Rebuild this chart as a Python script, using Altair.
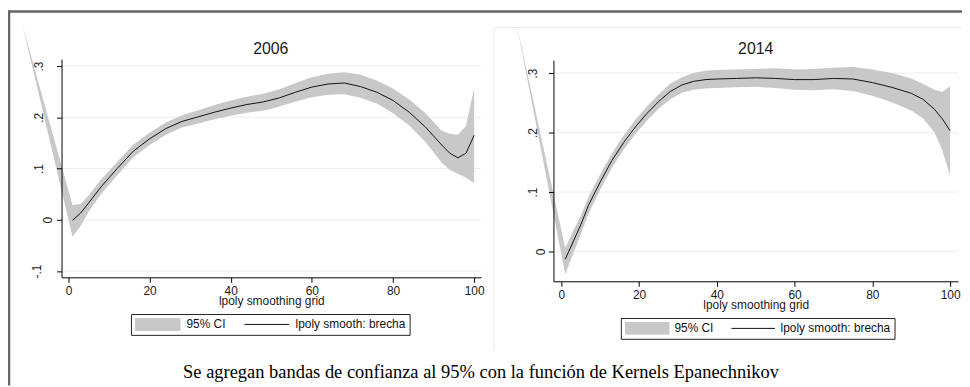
import altair as alt
import pandas as pd

# ---------------- data ----------------
years = ["2006", "2014"]
x_ticks = [0, 20, 40, 60, 80, 100]
y_ticks_2006 = [-0.1, 0, 0.1, 0.2, 0.3]
y_ticks_2014 = [0, 0.1, 0.2, 0.3]
legend_labels = ["95% CI", "lpoly smooth: brecha"]
x_title = "lpoly smoothing grid"
caption = "Se agregan bandas de confianza al 95% con la función de Kernels Epanechnikov"

grid_2006 = [1, 3, 5, 8, 12, 16, 20, 24, 28, 32, 36, 40, 44, 48, 52, 56, 60, 64, 68, 72,
             76, 80, 84, 88, 92, 94, 96, 98, 100]
fit_2006 = [-0.001, 0.013, 0.033, 0.064, 0.100, 0.134, 0.158, 0.178, 0.192, 0.201, 0.210,
            0.218, 0.225, 0.230, 0.238, 0.249, 0.259, 0.265, 0.267, 0.260, 0.249, 0.233,
            0.210, 0.181, 0.146, 0.130, 0.121, 0.130, 0.165]
lo_2006 = [-0.033, -0.012, 0.016, 0.050, 0.087, 0.122, 0.146, 0.166, 0.180, 0.188, 0.196,
           0.203, 0.209, 0.213, 0.221, 0.231, 0.239, 0.244, 0.245, 0.238, 0.227, 0.208,
           0.184, 0.152, 0.112, 0.097, 0.090, 0.082, 0.072]
hi_2006 = [0.029, 0.031, 0.048, 0.078, 0.113, 0.147, 0.170, 0.190, 0.204, 0.214, 0.224,
           0.233, 0.240, 0.246, 0.255, 0.267, 0.278, 0.285, 0.288, 0.283, 0.272, 0.256,
           0.235, 0.208, 0.174, 0.168, 0.166, 0.183, 0.257]

grid_2014 = [1, 3, 5, 7, 10, 13, 16, 19, 22, 25, 28, 31, 34, 37, 40, 45, 50, 55, 60, 65,
             70, 75, 80, 85, 90, 93, 96, 98, 100]
fit_2014 = [-0.013, 0.016, 0.045, 0.078, 0.117, 0.153, 0.183, 0.209, 0.232, 0.252, 0.269,
            0.280, 0.286, 0.289, 0.290, 0.291, 0.292, 0.291, 0.289, 0.289, 0.291, 0.290,
            0.284, 0.276, 0.266, 0.256, 0.239, 0.223, 0.203]
lo_2014 = [-0.038, -0.004, 0.029, 0.064, 0.104, 0.141, 0.171, 0.197, 0.220, 0.240, 0.256,
           0.267, 0.272, 0.274, 0.275, 0.276, 0.277, 0.275, 0.272, 0.271, 0.273, 0.270,
           0.262, 0.251, 0.237, 0.224, 0.200, 0.170, 0.128]
hi_2014 = [0.006, 0.034, 0.060, 0.092, 0.130, 0.165, 0.195, 0.221, 0.244, 0.264, 0.282,
           0.293, 0.300, 0.304, 0.305, 0.306, 0.307, 0.308, 0.306, 0.307, 0.309, 0.310,
           0.306, 0.300, 0.291, 0.282, 0.272, 0.268, 0.278]

# stray band vertex drawn outside the plot region in the original
stray_x = [-11.4, -11.5]
stray_y = [0.382, 0.382]

# ---------------- style ----------------
FONT = "Liberation Sans"
BAND = "#c8c8ca"
LINE = "#111111"
W, H = 962, 379

Y_LABEL_EXPR = ("datum.value == 0 ? '0' : (datum.value < 0 ? '-' : '') + "
                "replace(format(abs(datum.value), '.1f'), '0.', '.')")
COND = "datum.value == '95% CI'"


def make_panel(year, xs, fit, lo, hi, sx, sy, yticks, xdom, xrng, ydom, yrng,
               xoff, yoff, pads, title_xy, leg):
    band_df = pd.DataFrame({"x": [sx] + xs, "lo": [sy] + lo, "hi": [sy] + hi,
                            "s": legend_labels[0]})
    line_df = pd.DataFrame({"x": xs, "fit": fit, "s": legend_labels[1]})
    grid_df = pd.DataFrame({"v": yticks})
    title_df = pd.DataFrame({"year": [year]})

    xsc = alt.Scale(domain=xdom, range=xrng, nice=False, zero=False)
    ysc = alt.Scale(domain=ydom, range=yrng, nice=False, zero=False)

    xax = alt.Axis(values=x_ticks, orient="bottom", offset=xoff, title=x_title,
                   format="d", grid=False, tickSize=5, tickColor="#000",
                   domainColor="#000", labelPadding=12.5, labelBaseline="alphabetic",
                   labelFont=FONT, labelFontSize=12, labelColor="#1a1a1a",
                   labelFlush=False, labelOverlap=False,
                   titleFont=FONT, titleFontSize=12, titleFontWeight="normal",
                   titleColor="#1a1a1a", titleY=27, titleBaseline="alphabetic",
                   zindex=1)
    yax = alt.Axis(values=yticks, orient="left", offset=yoff, title=None,
                   grid=False, tickSize=5, tickColor="#000", domainColor="#000",
                   labelAngle=270, labelAlign="center", labelBaseline="middle",
                   labelPadding={"condition": [
                       {"test": "datum.value == 0", "value": pads[1]},
                       {"test": "datum.value < 0", "value": pads[2]}],
                       "value": pads[0]},
                   labelExpr=Y_LABEL_EXPR, labelFont=FONT, labelFontSize=12,
                   labelColor="#1a1a1a", labelFlush=False, labelOverlap=False,
                   zindex=1)

    legend = alt.Legend(
        title=None, orient="none", legendX=leg["x"], legendY=leg["y"],
        direction="horizontal", columns=2, padding=4, strokeColor="#222",
        fillColor="white", symbolSize=leg["size"], clipHeight=13,
        labelFont=FONT, labelFontSize=leg["font"], labelColor="#111",
        labelOffset=leg["off"], columnPadding=leg["colpad"], labelLimit=300,
        symbolType=alt.expr(f"{COND} ? 'M-1,-0.27H1V0.27H-1Z' : 'M-1,0H1'"),
        symbolFillColor=alt.expr(f"{COND} ? '{BAND}' : 'transparent'"),
        symbolStrokeColor=alt.expr(f"{COND} ? '{BAND}' : '{LINE}'"),
        symbolStrokeWidth=1, symbolOpacity=1,
    )
    col = alt.Color("s:N", scale=alt.Scale(domain=legend_labels, range=[BAND, LINE]),
                    legend=legend)

    grid = alt.Chart(grid_df).mark_rule(color="#ededed", strokeWidth=1).encode(
        y=alt.Y("v:Q", scale=ysc, axis=yax),
        x=alt.XDatum(xdom[0], type="quantitative", scale=xsc, axis=xax),
        x2=alt.X2Datum(xdom[1]),
    )
    band = alt.Chart(band_df).mark_area(opacity=1).encode(
        x=alt.X("x:Q", scale=xsc, axis=xax),
        y=alt.Y("lo:Q", scale=ysc, axis=yax),
        y2="hi:Q",
        color=col,
    )
    line = alt.Chart(line_df).mark_line(strokeWidth=1).encode(
        x=alt.X("x:Q", scale=xsc, axis=xax),
        y=alt.Y("fit:Q", scale=ysc, axis=yax),
        color=col,
    )
    ttl = alt.Chart(title_df).mark_text(
        font=FONT, fontSize=16, align="center", baseline="alphabetic", color="#1a1a1a"
    ).encode(text="year:N", x=alt.value(title_xy[0]), y=alt.value(title_xy[1]))
    return alt.layer(grid, band, line, ttl)


left = make_panel(
    years[0], grid_2006, fit_2006, lo_2006, hi_2006, stray_x[0], stray_y[0],
    y_ticks_2006, xdom=[-1.7, 101.7], xrng=[54, 477], ydom=[-0.1123, 0.3135],
    yrng=[270, 50], xoff=270 - H, yoff=-54, pads=[18, 9, 20], title_xy=(265, 45),
    leg={"x": 124, "y": 307, "size": 2025, "font": 12, "off": 6, "colpad": 18},
)
right = make_panel(
    years[1], grid_2014, fit_2014, lo_2014, hi_2014, stray_x[1], stray_y[1],
    y_ticks_2014, xdom=[-2.04, 102.04], xrng=[550, 958], ydom=[-0.05, 0.3217],
    yrng=[274, 51], xoff=274 - H, yoff=-550, pads=[16, 8, 18], title_xy=(754, 45),
    leg={"x": 618, "y": 311, "size": 1936, "font": 12, "off": 5, "colpad": 17},
)

one = pd.DataFrame({"k": [0]})
frame_top = alt.Chart(one).mark_rule(color="#666", strokeWidth=2.5).encode(
    x=alt.value(0), x2=alt.value(W), y=alt.value(2))
frame_left = alt.Chart(one).mark_rule(color="#666", strokeWidth=2.5).encode(
    x=alt.value(1), y=alt.value(1), y2=alt.value(H))
rframe_v = alt.Chart(one).mark_rule(color="#ececec", strokeWidth=1).encode(
    x=alt.value(490), y=alt.value(18), y2=alt.value(344))
rframe_h = alt.Chart(one).mark_rule(color="#ececec", strokeWidth=1).encode(
    x=alt.value(490), x2=alt.value(W), y=alt.value(18))

cap = alt.Chart(pd.DataFrame({"t": [caption]})).mark_text(
    font="Liberation Serif", fontSize=18.6, align="center", baseline="alphabetic",
    color="#000"
).encode(text="t:N", x=alt.value(477), y=alt.value(372))

chart = (
    alt.layer(rframe_v, rframe_h, left, right, frame_top, frame_left, cap)
    .resolve_scale(x="independent", y="independent", color="independent")
    .resolve_axis(x="independent", y="independent")
    .resolve_legend(color="independent")
    .properties(width=W, height=H, autosize=alt.AutoSizeParams(type="none"), padding=0)
    .configure(font=FONT)
    .configure_view(stroke=None)
)

chart.save("out.html", embed_options={"renderer": "svg", "actions": False})
